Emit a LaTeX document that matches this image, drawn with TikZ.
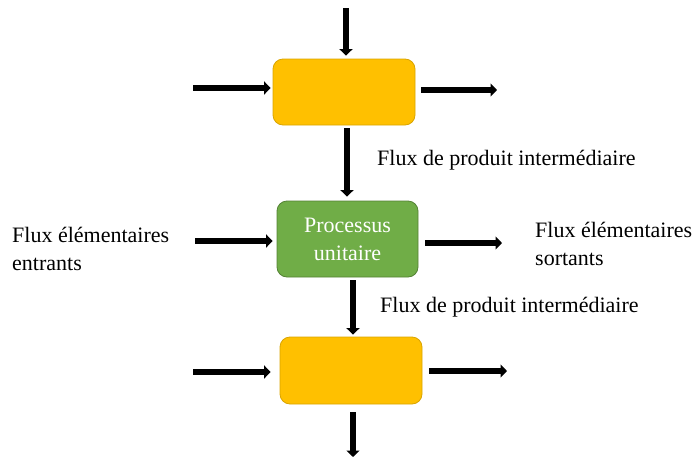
\documentclass[tikz,border=0pt]{standalone}
\usepackage{fontspec}
\setmainfont{Liberation Serif}
\usetikzlibrary{arrows.meta}
\definecolor{boxyellow}{HTML}{FFC000}
\definecolor{boxyellowline}{HTML}{D9A400}
\definecolor{boxgreen}{HTML}{70AD47}
\definecolor{boxgreenline}{HTML}{548235}
\tikzset{
  procbox/.style={draw, line width=0.8pt, rounded corners=10pt, inner sep=0pt},
  yellowbox/.style={procbox, fill=boxyellow, draw=boxyellowline},
  greenbox/.style={procbox, fill=boxgreen, draw=boxgreenline, text=white, align=center,
    font=\fontsize{22}{28}\selectfont},
  flow/.style={line width=5.5pt, -{Triangle[length=6.5pt,width=13pt]}},
  lbl/.style={font=\fontsize{22}{28}\selectfont, inner sep=0pt, align=left}
}
\begin{document}
\begin{tikzpicture}[x=1pt,y=-1pt]
  \useasboundingbox (0,0) rectangle (694,458);

  % process boxes
  \node[yellowbox, minimum width=142pt, minimum height=66pt] (top) at (344,92) {};
  \node[greenbox, minimum width=141pt, minimum height=76pt] (unit) at (347.5,239) {Processus\\unitaire};
  \node[yellowbox, minimum width=142pt, minimum height=67pt] (bot) at (351,370.5) {};

  % free ends of the flows
  \coordinate (topin) at (346,8);
  \coordinate (topleft) at (193,88);
  \coordinate (topright) at (497,90);
  \coordinate (unitleft) at (195,241);
  \coordinate (unitright) at (502,243);
  \coordinate (botleft) at (193,372);
  \coordinate (botright) at (507,371);
  \coordinate (botout) at (353,457);

  % upper box flows
  \draw[flow, shorten >=3pt] (topin) -- (topin |- top.north);
  \draw[flow, shorten >=2pt] (topleft) -- (topleft -| top.west);
  \draw[flow, shorten <=6pt] (topright -| top.east) -- (topright);

  % intermediate product flows
  \draw[flow, shorten <=3pt, shorten >=4pt] ([xshift=3pt]top.south) -- ([xshift=-0.5pt]unit.north);
  \draw[flow, shorten <=3pt, shorten >=2pt] ([xshift=5.5pt]unit.south) -- ([xshift=2pt]bot.north);

  % unit process flows
  \draw[flow, shorten >=4pt] (unitleft) -- (unitleft -| unit.west);
  \draw[flow, shorten <=7pt] (unitright -| unit.east) -- (unitright);

  % lower box flows
  \draw[flow, shorten >=9pt] (botleft) -- (botleft -| bot.west);
  \draw[flow, shorten <=7pt] (botright -| bot.east) -- (botright);
  \draw[flow, shorten <=8pt] ([xshift=2pt]bot.south) -- (botout);

  % labels
  \node[lbl, anchor=west] (lblmid1) at (377,160) {Flux de produit interm\'ediaire};
  \node[lbl, anchor=west] (lblmid2) at (380,307) {Flux de produit interm\'ediaire};
  \node[lbl, anchor=west] (lblin) at (12,249) {Flux élémentaires\\entrants};
  \node[lbl, anchor=west] (lblout) at (535,244) {Flux élémentaires\\sortants};
\end{tikzpicture}
\end{document}
